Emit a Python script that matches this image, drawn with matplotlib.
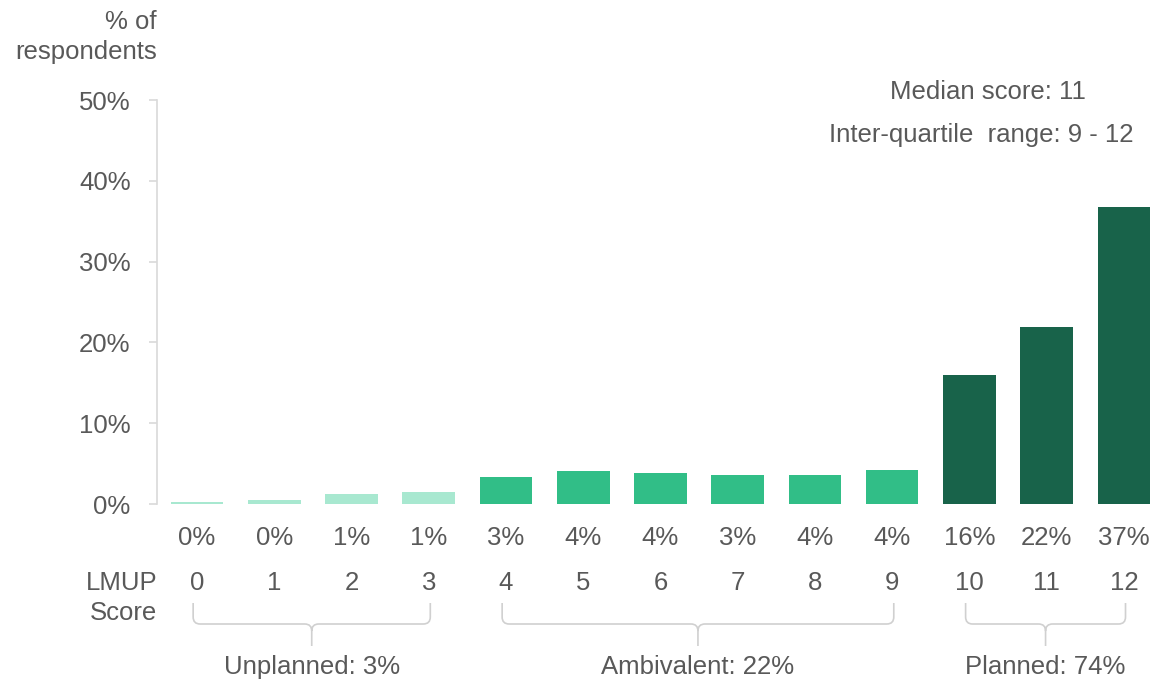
import matplotlib.pyplot as plt
from matplotlib.path import Path
from matplotlib.patches import PathPatch

plt.rcParams['font.family'] = ['Liberation Sans', 'DejaVu Sans']

# data
scores = list(range(13))
percent = [0.3, 0.5, 1.2, 1.5, 3.3, 4.1, 3.8, 3.6, 3.6, 4.2, 16.0, 21.9, 36.7]
value_labels = ['0%', '0%', '1%', '1%', '3%', '4%', '4%', '3%', '4%', '4%', '16%', '22%', '37%']
group_names = ['Unplanned: 3%', 'Ambivalent: 22%', 'Planned: 74%']
group_start = [0, 4, 10]
group_end = [3, 9, 12]
group_colors = ['#a8e8d0', '#31be87', '#18634a']

TXT = '#595959'
GRID = '#d9d9d9'
FS = 18.5

W, H = 1151, 681
fig = plt.figure(figsize=(W / 100, H / 100), dpi=100)
# axes placed in pixels: spine at x=157, 0% at y=504, 50% at y=100
ax = fig.add_axes([157 / W, (H - 504) / H, 994 / W, 404 / H])
ax.set_xlim(-0.518, 12.35)
ax.set_ylim(0, 50)

bar_colors = []
for s in scores:
    for g in range(len(group_names)):
        if group_start[g] <= s <= group_end[g]:
            bar_colors.append(group_colors[g])
ax.bar(scores, percent, width=0.68, color=bar_colors)

for spine in ['top', 'right', 'bottom']:
    ax.spines[spine].set_visible(False)
ax.spines['left'].set_color(GRID)
ax.spines['left'].set_linewidth(1.2)

ax.set_yticks([0, 10, 20, 30, 40, 50])
ax.set_yticklabels(['0%', '10%', '20%', '30%', '40%', '50%'])
ax.tick_params(axis='y', colors=GRID, labelcolor=TXT, labelsize=FS,
               length=6, width=1.2, pad=13)
ax.set_xticks(scores)
ax.set_xticklabels([str(s) for s in scores])
ax.tick_params(axis='x', length=0, labelcolor=TXT, labelsize=FS, pad=48)

# value labels under the bars
for s, lab in zip(scores, value_labels):
    ax.annotate(lab, xy=(s, 0), xytext=(0, -34), textcoords='offset pixels',
                ha='center', va='center', fontsize=FS, color=TXT,
                annotation_clip=False)

fig.text(157 / W, 1 - 598 / H, 'LMUP\nScore', ha='right', va='center',
         fontsize=FS, color=TXT, linespacing=1.3)
fig.text(157 / W, 1 - 37 / H, '% of\nrespondents', ha='right', va='center',
         fontsize=FS, color=TXT, linespacing=1.3)

fig.text(988 / W, 1 - 92 / H, 'Median score: 11', ha='center', va='center',
         fontsize=FS, color=TXT)
fig.text(981 / W, 1 - 135 / H, 'Inter-quartile  range: 9 - 12', ha='center',
         va='center', fontsize=FS, color=TXT)

# brackets under the score groups (data units: 77.25 px per x, 8.08 px per y)
ypx = 8.08
top = -(603 - 504) / ypx
bot = -(624 - 504) / ypx
tail = -(646 - 504) / ypx
rx = 7 / 77.25
ry = 7 / ypx
for g in range(len(group_names)):
    x0 = group_start[g] - 0.05
    x1 = group_end[g] + 0.02
    xc = (x0 + x1) / 2
    verts = [
        (x0, top), (x0, bot + ry), (x0, bot), (x0 + rx, bot),
        (xc - rx, bot), (xc, bot), (xc, bot - ry), (xc, tail),
        (x1, top), (x1, bot + ry), (x1, bot), (x1 - rx, bot),
        (xc + rx, bot), (xc, bot), (xc, bot - ry),
    ]
    codes = [
        Path.MOVETO, Path.LINETO, Path.CURVE3, Path.CURVE3,
        Path.LINETO, Path.CURVE3, Path.CURVE3, Path.LINETO,
        Path.MOVETO, Path.LINETO, Path.CURVE3, Path.CURVE3,
        Path.LINETO, Path.CURVE3, Path.CURVE3,
    ]
    ax.add_patch(PathPatch(Path(verts, codes), fill=False, edgecolor='#d0d0d0',
                           linewidth=1.2, clip_on=False))
    ax.annotate(group_names[g], xy=(xc, 0), xytext=(0, -(667 - 504)),
                textcoords='offset pixels', ha='center', va='center',
                fontsize=FS, color=TXT, annotation_clip=False)

fig.savefig('out.png', dpi=100)
